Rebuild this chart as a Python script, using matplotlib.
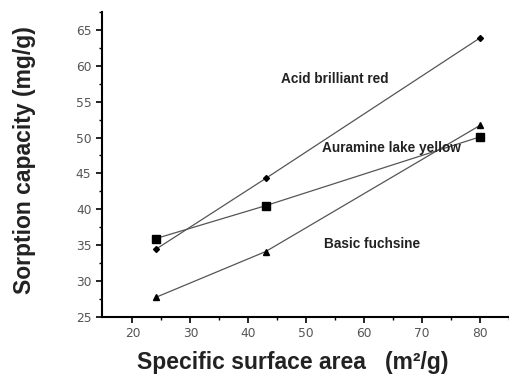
import matplotlib.pyplot as plt

plt.rcParams['font.family'] = ['Liberation Sans', 'DejaVu Sans']

x = [24, 43, 80]
acid_red = [34.4, 44.3, 63.9]
auramine = [35.9, 40.5, 50.1]
fuchsine = [27.7, 34.1, 51.7]

fig = plt.figure(figsize=(5.09, 3.78), dpi=100)
ax = fig.add_axes([0.2, 0.162, 0.8, 0.806])

ax.plot(x, acid_red, color='#555555', lw=0.9, marker='D', ms=3, mfc='black', mec='black')
ax.plot(x, auramine, color='#555555', lw=0.9, marker='s', ms=6, mfc='black', mec='black')
ax.plot(x, fuchsine, color='#555555', lw=0.9, marker='^', ms=5, mfc='black', mec='black')

ax.text(45.7, 58.2, 'Acid brilliant red', fontsize=9.8, fontweight='bold', color='#222222', va='center')
ax.text(52.7, 48.5, 'Auramine lake yellow', fontsize=9.8, fontweight='bold', color='#222222', va='center')
ax.text(53.1, 35.1, 'Basic fuchsine', fontsize=9.8, fontweight='bold', color='#222222', va='center')

ax.set_xlim(14.7, 85)
ax.set_ylim(25, 67.5)
ax.set_xticks([20, 30, 40, 50, 60, 70, 80])
ax.set_xticks([25, 35, 45, 55, 65, 75, 85], minor=True)
ax.set_yticks([25, 30, 35, 40, 45, 50, 55, 60, 65])
ax.set_yticks([27.5, 32.5, 37.5, 42.5, 47.5, 52.5, 57.5, 62.5, 67.5], minor=True)
ax.tick_params(which='major', direction='out', length=4, width=1.2, labelsize=8.8, labelcolor='#555555')
ax.tick_params(which='minor', direction='out', length=2, width=1)
for lbl in ax.get_xticklabels() + ax.get_yticklabels():
    lbl.set_family('DejaVu Sans')

ax.spines['top'].set_visible(False)
ax.spines['right'].set_visible(False)
ax.spines['left'].set_linewidth(1.5)
ax.spines['bottom'].set_linewidth(1.5)

fig.text(0.049, 0.577, 'Sorption capacity (mg/g)', rotation=90, fontsize=16.5, fontweight='bold',
         color='#222222', ha='center', va='center')
fig.text(0.576, 0.025, 'Specific surface area   (m²/g)', fontsize=16.5, fontweight='bold',
         color='#222222', ha='center', va='baseline')

fig.savefig('out.png', dpi=100)
